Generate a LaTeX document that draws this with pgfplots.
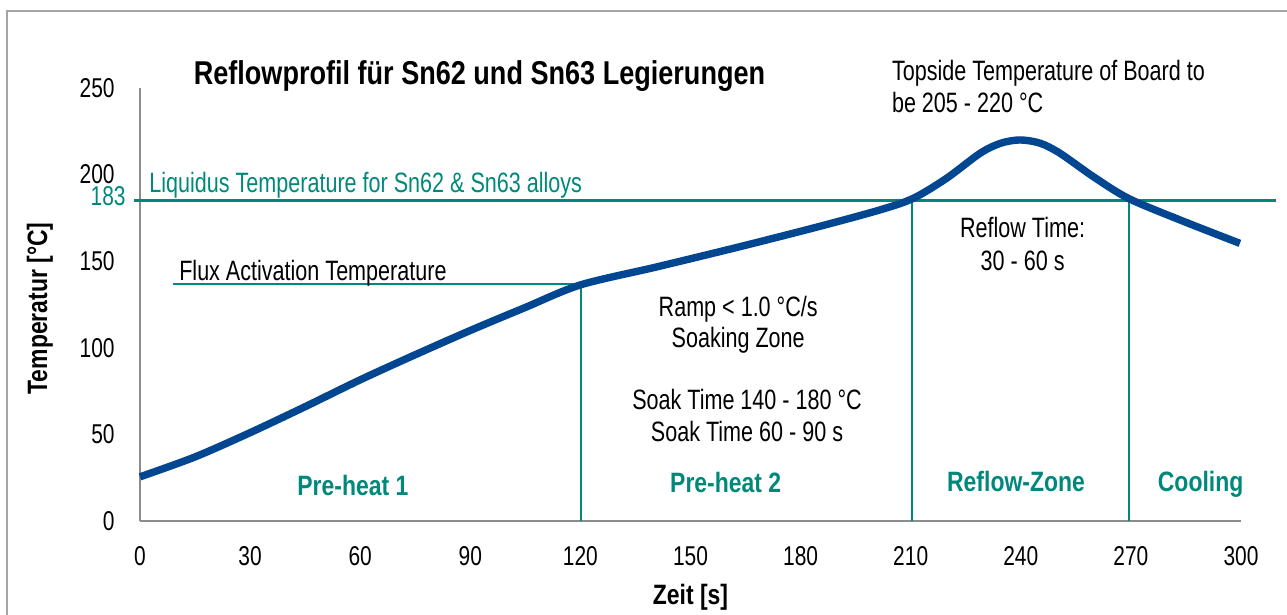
\documentclass[border=0pt]{standalone}
\usepackage{pgfplots}
\pgfplotsset{compat=1.18}
\usepackage{fontspec}
\setmainfont{Liberation Sans}[FakeStretch=0.77]
\newfontfamily\bfcond{Liberation Sans}[FakeStretch=0.82]
\definecolor{tealc}{RGB}{0,137,123}
\definecolor{bluec}{RGB}{0,70,145}
\definecolor{axgrey}{RGB}{140,140,140}
\definecolor{framegrey}{RGB}{165,165,165}
\newcommand{\txt}{\fontsize{14pt}{17pt}\selectfont}
\newcommand{\tck}{\fontsize{13.6pt}{16pt}\selectfont}
\newcommand{\bld}{\bfcond\bfseries\fontsize{14pt}{17pt}\selectfont}
\begin{document}
\begin{tikzpicture}
\begin{axis}[
  scale only axis, width=550.5pt, height=216.5pt,
  xmin=0, xmax=300, ymin=0, ymax=250,
  axis x line*=bottom, axis y line*=left,
  axis line style={-, draw=axgrey, line width=1pt},
  xtick={0,30,...,300}, ytick={0,50,...,250},
  major tick length=0pt,
  /pgf/number format/assume math mode=true,
  ticklabel style={font=\tck, inner sep=0pt, text=black},
  xticklabel style={anchor=north},
  yticklabel style={anchor=east},
  xticklabel shift=12.8pt, yticklabel shift=12.5pt,
  clip=false,
]
\coordinate (O) at (axis cs:0,0);
% reference lines
\addplot[tealc, line width=1.5pt] coordinates {(-1.6,185) (309.5,185)};
\addplot[tealc, line width=0.9pt] coordinates {(9,136.7) (120.2,136.7)};
\addplot[tealc, line width=0.8pt] coordinates {(120.2,0) (120.2,136.7)};
\addplot[tealc, line width=1pt] coordinates {(210.3,0) (210.3,185)};
\addplot[tealc, line width=1pt] coordinates {(269.4,0) (269.4,185)};
% profile
\addplot[bluec, line width=3.7pt, smooth] coordinates {
(0,25.5) (15,37) (30,51) (45,66) (60,81.5) (75,96) (90,110) (105,123.3)
(120,136.3) (141,146.8) (163.5,158.4) (185,170) (201.6,179.6) (210.7,186.3)
(219.8,197.9) (228.9,212.3) (234.5,218.1) (239.8,220) (245.3,218.1) (250.7,212.3) (259.7,198.9)
(269.3,186.3) (283.4,173.8) (299.7,160.3)};
% texts
\node[anchor=base, inner sep=0pt, font=\bfcond\bfseries\fontsize{16.5pt}{19pt}\selectfont] at (axis cs:92.5,252.3) {Reflowprofil für Sn62 und Sn63 Legierungen};
\node[anchor=base west, inner sep=0pt, font=\txt] at (axis cs:204.8,254.6) {Topside Temperature of Board to};
\node[anchor=base west, inner sep=0pt, font=\txt] at (axis cs:204.8,235.6) {be 205 - 220 °C};
\node[anchor=base west, inner sep=0pt, font=\txt, text=tealc] at (axis cs:2.45,189.4) {Liquidus Temperature for Sn62 \& Sn63 alloys};
\node[anchor=base east, inner sep=0pt, font=\tck, text=tealc] at (axis cs:-3.8,181.9) {183};
\node[anchor=base west, inner sep=0pt, font=\txt] at (axis cs:10.6,139.1) {Flux Activation Temperature};
\node[anchor=base, inner sep=0pt, font=\txt] at (axis cs:163,118) {Ramp < 1.0 °C/s};
\node[anchor=base, inner sep=0pt, font=\txt] at (axis cs:163,99.9) {Soaking Zone};
\node[anchor=base, inner sep=0pt, font=\txt] at (axis cs:165.4,64.1) {Soak Time 140 - 180 °C};
\node[anchor=base, inner sep=0pt, font=\txt] at (axis cs:165.4,45.8) {Soak Time 60 - 90 s};
\node[anchor=base, inner sep=0pt, font=\txt] at (axis cs:240.5,163.4) {Reflow Time:};
\node[anchor=base, inner sep=0pt, font=\txt] at (axis cs:240.5,144.9) {30 - 60 s};
\node[anchor=base, inner sep=0pt, font=\bld, text=tealc] at (axis cs:58,15) {Pre-heat 1};
\node[anchor=base, inner sep=0pt, font=\bld, text=tealc] at (axis cs:159.6,16.7) {Pre-heat 2};
\node[anchor=base, inner sep=0pt, font=\bld, text=tealc] at (axis cs:238.7,16.9) {Reflow-Zone};
\node[anchor=base, inner sep=0pt, font=\bld, text=tealc] at (axis cs:289,16.9) {Cooling};
\node[anchor=base, inner sep=0pt, font=\bld] at (axis cs:150,-48.5) {Zeit [s]};
\node[anchor=base, inner sep=0pt, font=\bld, rotate=90] at (axis cs:-25.3,122.7) {Temperatur [°C]};
\end{axis}
\draw[framegrey, line width=1.2pt] ([shift={(-66.5pt,-80pt)}]O) -- ([shift={(-66.5pt,255pt)}]O) -- ([shift={(620pt,255pt)}]O);
\pgfresetboundingbox
\useasboundingbox ([shift={(-70pt,-47pt)}]O) rectangle ([shift={(573.5pt,260.5pt)}]O);
\end{tikzpicture}
\end{document}
